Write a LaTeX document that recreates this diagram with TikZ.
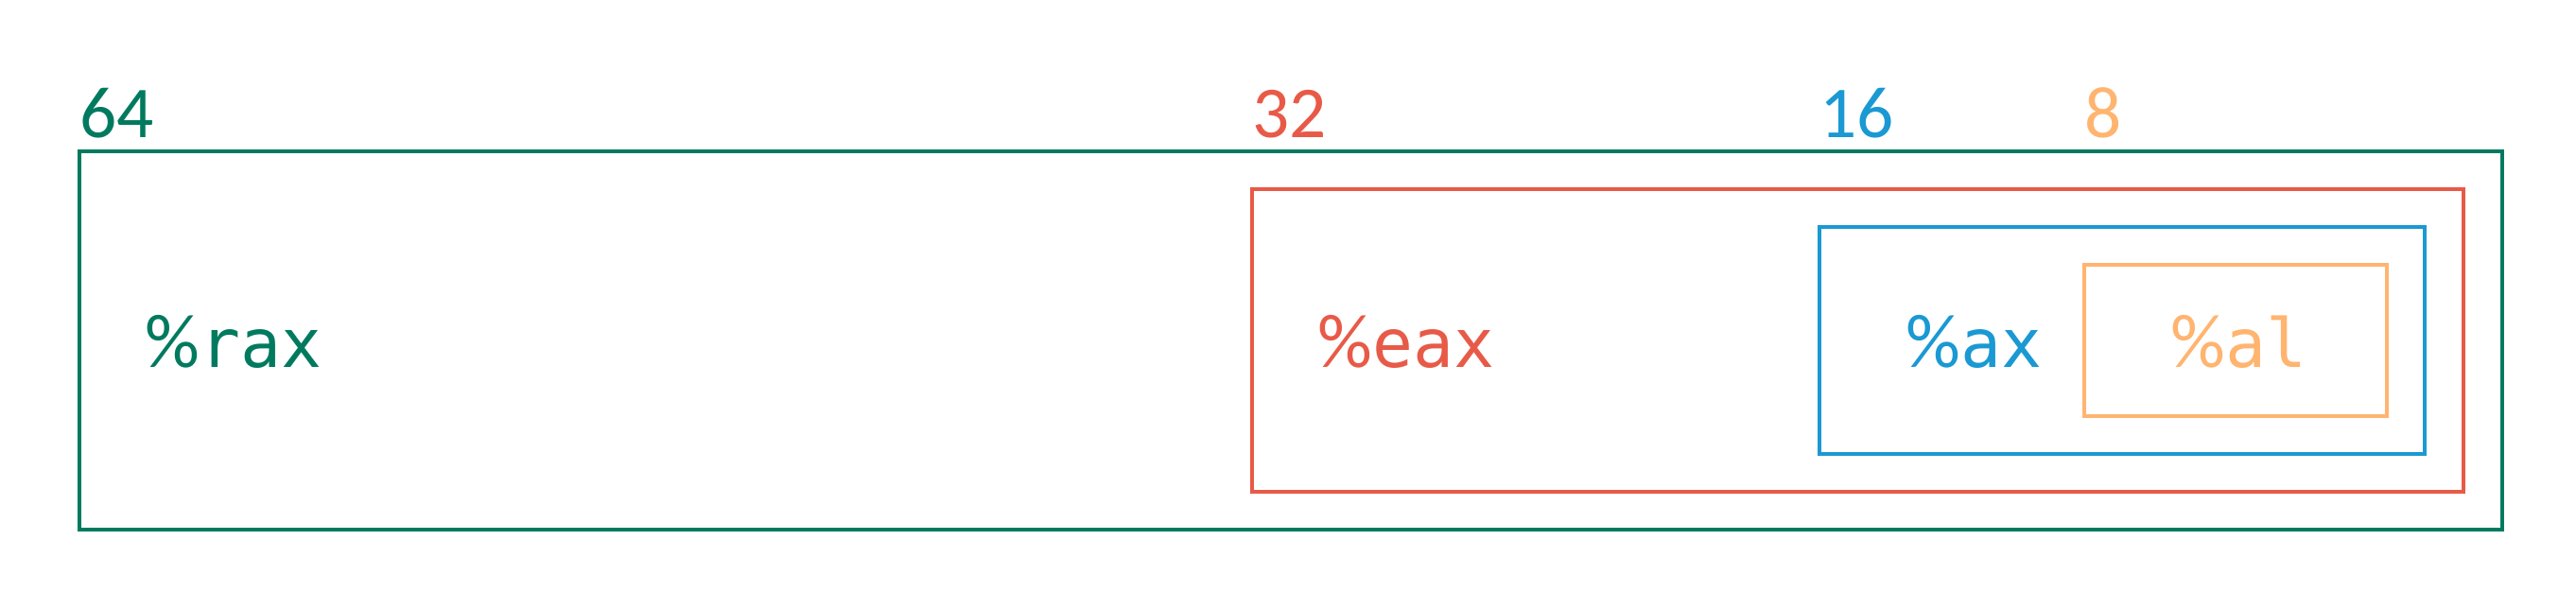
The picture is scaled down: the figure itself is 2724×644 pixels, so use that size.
\documentclass[tikz,border=0pt]{standalone}
\usepackage{fontspec}
\setmainfont{Carlito}
\newfontfamily\regfont{DejaVu Sans Mono}
\usepackage{tikz}
\usetikzlibrary{positioning}
\definecolor{cgreen}{HTML}{007A5F}
\definecolor{cred}{HTML}{E85A48}
\definecolor{cblue}{HTML}{1A99D3}
\definecolor{corange}{HTML}{FFB470}
\newcommand\pct{{\rmfamily\fontsize{23}{26}\selectfont\%}}
\tikzset{regbox/.style={draw,line width=1.15pt,inner sep=0pt,anchor=south west},
  bitlbl/.style={inner sep=0pt,anchor=base west,font=\fontsize{22}{26}\selectfont},
  reglbl/.style={inner sep=0pt,anchor=base west,font=\regfont\fontsize{20.3}{24}\selectfont}}

\begin{document}
\begin{tikzpicture}[x=0.01cm,y=0.01cm]
\useasboundingbox (0,0) rectangle (2724,644);
\foreach \reg/\bits/\col/\lx/\ly/\w/\h/\tx in {rax/64/cgreen/82/82/25.6/4.0/153,
  eax/32/cred/1322/122/12.8/3.2/1393, ax/16/cblue/1922/162/6.4/2.4/2015,
  al/8/corange/2202/202/3.2/1.6/2295}{
  \node[regbox,draw=\col,minimum width=\w cm,minimum height=\h cm] (\reg) at (\lx,\ly) {};
  \node[bitlbl,text=\col] (\reg-bits) at (\lx+2,499) {\bits};
  \node[reglbl,text=\col] (\reg-name) at (\tx,256) {\pct\reg};
}
\end{tikzpicture}
\end{document}
